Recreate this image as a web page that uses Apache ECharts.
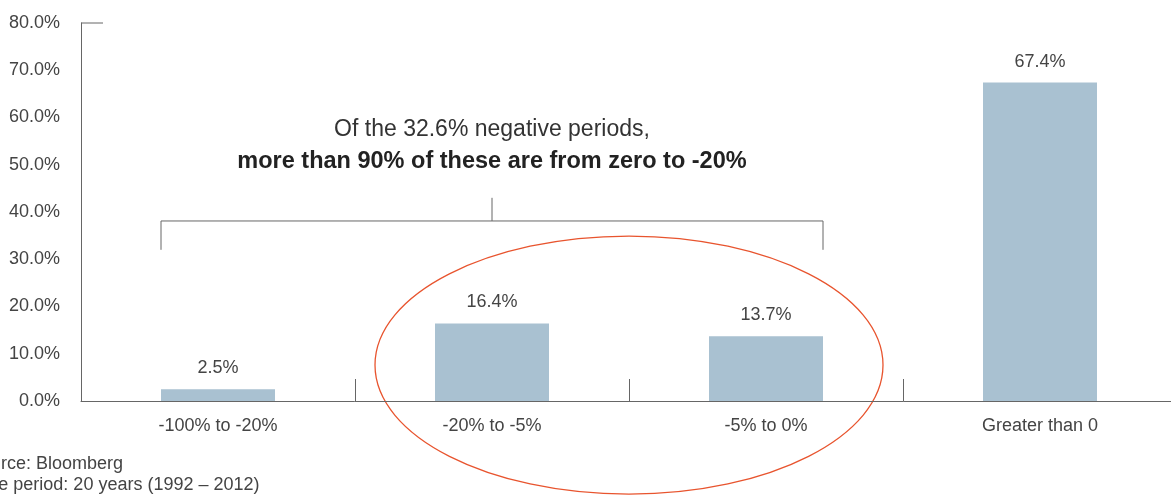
<!DOCTYPE html>
<html>
<head>
<meta charset="utf-8">
<script src="https://cdn.jsdelivr.net/npm/echarts@6/dist/echarts.min.js"></script>
<style>
html,body{margin:0;padding:0;background:#fff;overflow:hidden;}
#c{width:1180px;height:495px;}
</style>
</head>
<body>
<div id="c"></div>
<script>
var categories = ['-100% to -20%', '-20% to -5%', '-5% to 0%', 'Greater than 0'];
var values = [2.5, 16.4, 13.7, 67.4];
var noteLine1 = 'Of the 32.6% negative periods,';
var noteLine2 = 'more than 90% of these are from zero to -20%';
var sourceLines = ['Source: Bloomberg', 'Time period: 20 years (1992 \u2013 2012)'];

var FONT = '"Liberation Sans", Arial, Helvetica, sans-serif';
var TXT = '#444';
var AX = '#666';
var chart = echarts.init(document.getElementById('c'), null, {renderer: 'canvas'});

var option = {
  animation: false,
  grid: {left: 81, top: 23, width: 1096, height: 378, containLabel: false},
  xAxis: {
    type: 'category',
    data: categories,
    boundaryGap: true,
    axisLine: {lineStyle: {color: AX, width: 1}},
    axisTick: {show: true, inside: true, length: 22, lineStyle: {color: AX, width: 1}},
    axisLabel: {color: TXT, fontSize: 18, fontFamily: FONT, margin: 16}
  },
  yAxis: {
    type: 'value',
    min: 0, max: 80, interval: 10,
    axisLine: {show: true, lineStyle: {color: AX, width: 1}},
    axisTick: {show: false},
    splitLine: {show: false},
    axisLabel: {color: TXT, fontSize: 18, fontFamily: FONT, margin: 21, padding: [0, 0, 6, 0],
      formatter: function (v) { return v.toFixed(1) + '%'; }}
  },
  series: [{
    type: 'bar',
    data: values,
    barWidth: 114,
    itemStyle: {color: '#a9c1d1'},
    label: {show: true, position: 'top', distance: 12, color: TXT, fontSize: 18, fontFamily: FONT,
      formatter: function (p) { return p.value.toFixed(1) + '%'; }}
  }]
};
chart.setOption(option);

function px(cat, val) { return chart.convertToPixel({gridIndex: 0}, [cat, val]); }
var c0 = px(0, 0), c1 = px(1, 0), c2 = px(2, 0);
var catW = c1[0] - c0[0];
var halfBar = 57;
var yBr = px(0, 38.1)[1], yBrDown = px(0, 32)[1], yBrUp = px(0, 43)[1];
var yTop = px(0, 80)[1];
var yAxisX = c0[0] - catW / 2;
var eCx = (c1[0] + c2[0]) / 2, eCy = px(0, 7.6)[1];
var eRx = catW * 0.927, eRy = px(0, 0)[1] - px(0, 27.3)[1];
var lineStyle = {stroke: AX, lineWidth: 1};

chart.setOption({
  graphic: [
    {type: 'line', shape: {x1: yAxisX, y1: yTop, x2: yAxisX + 22, y2: yTop}, style: lineStyle, silent: true},
    {type: 'polyline', shape: {points: [
      [c0[0] - halfBar, yBrDown], [c0[0] - halfBar, yBr], [c2[0] + halfBar, yBr], [c2[0] + halfBar, yBrDown]]},
      style: {stroke: AX, lineWidth: 1, fill: null}, silent: true},
    {type: 'line', shape: {x1: c1[0], y1: yBr, x2: c1[0], y2: yBrUp}, style: lineStyle, silent: true},
    {type: 'ellipse', shape: {cx: eCx, cy: eCy, rx: eRx, ry: eRy},
      style: {stroke: '#e8542e', lineWidth: 1.3, fill: null}, silent: true},
    {type: 'text', x: c1[0], y: px(0, 57.4)[1], silent: true,
      style: {text: noteLine1, fill: '#333', font: '300 23px ' + FONT, textAlign: 'center', textVerticalAlign: 'middle'}},
    {type: 'text', x: c1[0], y: px(0, 50.6)[1], silent: true,
      style: {text: noteLine2, fill: '#222', font: 'bold 23.5px ' + FONT, textAlign: 'center', textVerticalAlign: 'middle'}},
    {type: 'text', x: -31, y: 464, silent: true,
      style: {text: sourceLines[0], fill: TXT, font: '18px ' + FONT, textAlign: 'left', textVerticalAlign: 'middle'}},
    {type: 'text', x: -31, y: 485, silent: true,
      style: {text: sourceLines[1], fill: TXT, font: '18px ' + FONT, textAlign: 'left', textVerticalAlign: 'middle'}}
  ]
});
</script>
</body>
</html>
